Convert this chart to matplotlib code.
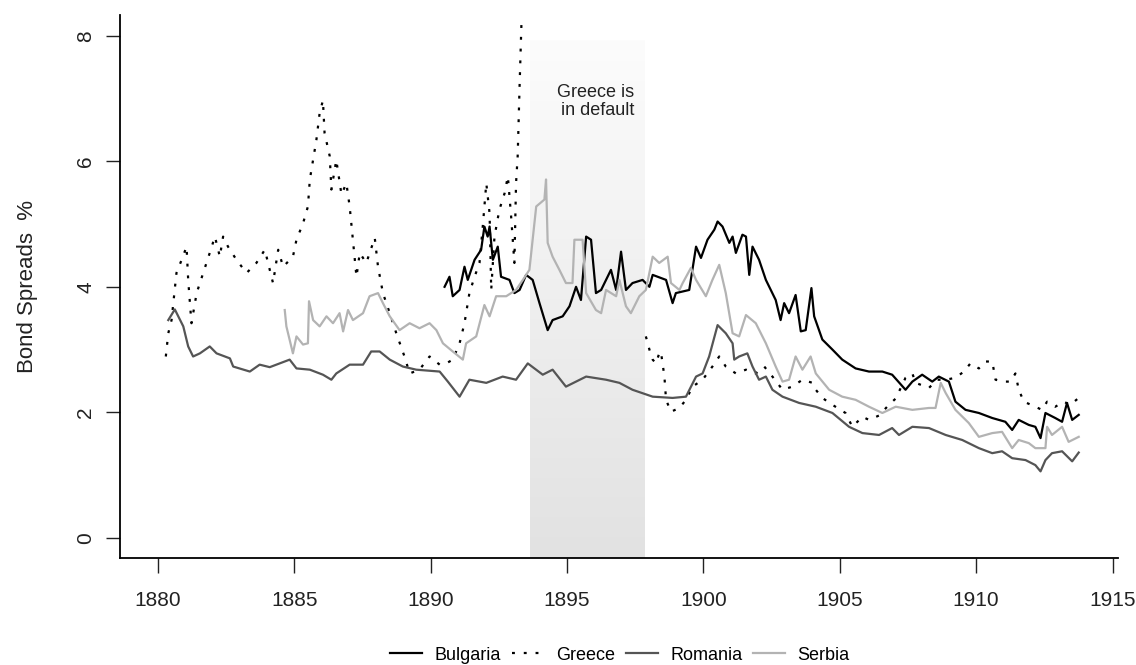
import matplotlib
matplotlib.use('Agg')
import matplotlib.pyplot as plt
import numpy as np
from matplotlib.colors import LinearSegmentedColormap

plt.rcParams['font.family'] = ['Liberation Sans', 'DejaVu Sans']

# Bond spreads (%)
bul_years = [1890.51, 1890.69, 1890.81, 1891.06, 1891.24, 1891.36, 1891.61, 1891.85, 1891.97, 1892.09,
             1892.16, 1892.28, 1892.46, 1892.58, 1892.89, 1893.07, 1893.26, 1893.50, 1893.74, 1893.99,
             1894.29, 1894.47, 1894.84, 1895.09, 1895.33, 1895.51, 1895.70, 1895.88, 1896.06, 1896.25,
             1896.61, 1896.80, 1896.98, 1897.16, 1897.40, 1897.77, 1898.02, 1898.14, 1898.63, 1898.87,
             1898.99, 1899.48, 1899.73, 1899.91, 1900.15, 1900.40, 1900.52, 1900.70, 1900.95, 1901.07,
             1901.19, 1901.43, 1901.56, 1901.68, 1901.80, 1902.04, 1902.29, 1902.65, 1902.83, 1902.96,
             1903.14, 1903.38, 1903.57, 1903.75, 1903.96, 1904.06, 1904.36, 1904.73, 1905.09, 1905.58,
             1906.07, 1906.56, 1906.92, 1907.41, 1907.66, 1908.02, 1908.39, 1908.63, 1909.00, 1909.24,
             1909.61, 1910.10, 1910.59, 1911.07, 1911.32, 1911.56, 1911.93, 1912.17, 1912.36, 1912.54,
             1912.90, 1913.15, 1913.33, 1913.52, 1913.76]
bul_vals = [4.00, 4.16, 3.85, 3.95, 4.32, 4.11, 4.43, 4.59, 4.96, 4.80,
            4.96, 4.43, 4.64, 4.16, 4.11, 3.90, 3.95, 4.19, 4.11, 3.74,
            3.31, 3.47, 3.53, 3.69, 4.00, 3.79, 4.80, 4.75, 3.90, 3.95,
            4.27, 3.95, 4.56, 3.95, 4.06, 4.11, 4.00, 4.19, 4.11, 3.74,
            3.90, 3.95, 4.64, 4.46, 4.75, 4.91, 5.04, 4.96, 4.70, 4.80,
            4.54, 4.83, 4.80, 4.19, 4.64, 4.43, 4.11, 3.79, 3.47, 3.74,
            3.58, 3.87, 3.29, 3.31, 3.98, 3.53, 3.16, 3.00, 2.84, 2.70,
            2.65, 2.65, 2.60, 2.36, 2.49, 2.60, 2.49, 2.57, 2.49, 2.17,
            2.04, 1.99, 1.91, 1.85, 1.72, 1.88, 1.80, 1.77, 1.59, 1.99,
            1.91, 1.85, 2.15, 1.88, 1.96]

# nan marks the default years (no quotes)
gre_years = [1880.29, 1880.38, 1880.50, 1880.68, 1880.87, 1881.05, 1881.11, 1881.23, 1881.42, 1881.66,
             1881.90, 1882.09, 1882.27, 1882.39, 1882.57, 1882.88, 1883.25, 1883.61, 1883.92, 1884.10,
             1884.22, 1884.41, 1884.59, 1884.95, 1885.08, 1885.32, 1885.50, 1885.57, 1885.69, 1885.81,
             1885.93, 1886.05, 1886.11, 1886.30, 1886.36, 1886.54, 1886.73, 1886.91, 1887.03, 1887.15,
             1887.28, 1887.40, 1887.64, 1887.95, 1888.07, 1888.25, 1888.50, 1888.74, 1889.04, 1889.23,
             1889.59, 1889.96, 1890.33, 1890.57, 1890.81, 1891.06, 1891.24, 1891.42, 1891.61, 1891.79,
             1891.91, 1892.04, 1892.16, 1892.22, 1892.34, 1892.52, 1892.71, 1892.83, 1892.95, 1893.07,
             1893.13, 1893.19, 1893.26, 1893.33, 1895.80,
             1897.89, 1898.02, 1898.14, 1898.26, 1898.38, 1898.44, 1898.57, 1898.63, 1898.81, 1899.12,
             1899.36, 1899.60, 1899.97, 1900.33, 1900.58, 1900.82, 1901.19, 1901.56, 1901.92, 1902.23,
             1902.53, 1902.90, 1903.26, 1903.63, 1904.00, 1904.12, 1904.36, 1904.73, 1905.21, 1905.46,
             1905.83, 1906.07, 1906.44, 1906.80, 1907.05, 1907.41, 1907.66, 1907.78, 1908.27, 1908.57,
             1908.88, 1909.24, 1909.55, 1909.79, 1910.10, 1910.34, 1910.59, 1910.71, 1911.01, 1911.26,
             1911.44, 1911.56, 1911.75, 1912.17, 1912.41, 1912.60, 1912.90, 1913.21, 1913.45, 1913.76]
gre_vals = [2.89, 3.26, 3.47, 4.22, 4.43, 4.64, 4.11, 3.42, 3.90, 4.22,
            4.54, 4.80, 4.48, 4.80, 4.64, 4.43, 4.22, 4.38, 4.59, 4.27,
            4.06, 4.59, 4.32, 4.48, 4.75, 5.01, 5.28, 5.71, 6.02, 6.34,
            6.77, 6.97, 6.45, 6.08, 5.55, 6.02, 5.47, 5.65, 5.28, 4.75,
            4.16, 4.54, 4.38, 4.78, 4.32, 3.90, 3.58, 3.26, 2.89, 2.62,
            2.68, 2.89, 2.76, 2.78, 2.84, 3.10, 3.42, 3.90, 4.16, 4.38,
            4.96, 5.65, 5.17, 3.95, 4.80, 5.23, 5.49, 5.76, 5.12, 4.38,
            5.65, 6.08, 7.20, 8.22, np.nan,
            3.21, 3.00, 2.84, 2.78, 2.94, 2.97, 2.57, 2.20, 2.01, 2.07,
            2.20, 2.41, 2.52, 2.73, 2.89, 2.73, 2.62, 2.68, 2.62, 2.73,
            2.57, 2.36, 2.41, 2.52, 2.47, 2.36, 2.23, 2.12, 1.99, 1.77,
            1.93, 1.88, 1.95, 2.12, 2.22, 2.55, 2.62, 2.47, 2.39, 2.52,
            2.52, 2.55, 2.65, 2.78, 2.70, 2.81, 2.81, 2.52, 2.49, 2.49,
            2.62, 2.36, 2.17, 2.09, 2.04, 2.17, 2.09, 2.17, 2.12, 2.23]

rom_years = [1880.38, 1880.62, 1880.93, 1881.11, 1881.29, 1881.54, 1881.90, 1882.15, 1882.64, 1882.76,
             1883.37, 1883.73, 1884.10, 1884.83, 1885.08, 1885.57, 1886.05, 1886.36, 1886.54, 1887.03,
             1887.52, 1887.82, 1888.13, 1888.50, 1888.98, 1889.47, 1890.33, 1890.63, 1891.06, 1891.42,
             1892.04, 1892.64, 1893.13, 1893.56, 1894.11, 1894.47, 1894.96, 1895.70, 1896.43, 1896.92,
             1897.40, 1898.14, 1898.87, 1899.36, 1899.73, 1899.97, 1900.21, 1900.52, 1900.82, 1901.07,
             1901.13, 1901.31, 1901.61, 1901.80, 1902.04, 1902.29, 1902.53, 1902.90, 1903.51, 1904.12,
             1904.73, 1905.34, 1905.83, 1906.44, 1906.92, 1907.17, 1907.66, 1908.27, 1908.88, 1909.49,
             1910.10, 1910.59, 1910.95, 1911.32, 1911.81, 1912.17, 1912.36, 1912.54, 1912.78, 1913.15,
             1913.52, 1913.76]
rom_vals = [3.47, 3.64, 3.37, 3.05, 2.89, 2.94, 3.05, 2.94, 2.86, 2.73,
            2.65, 2.76, 2.72, 2.84, 2.70, 2.68, 2.60, 2.52, 2.62, 2.76,
            2.76, 2.97, 2.97, 2.84, 2.73, 2.68, 2.65, 2.49, 2.25, 2.52,
            2.47, 2.57, 2.52, 2.78, 2.60, 2.68, 2.41, 2.57, 2.52, 2.47,
            2.36, 2.25, 2.23, 2.25, 2.57, 2.62, 2.89, 3.39, 3.26, 3.10,
            2.84, 2.89, 2.94, 2.73, 2.52, 2.57, 2.36, 2.25, 2.15, 2.09,
            1.99, 1.77, 1.67, 1.64, 1.75, 1.64, 1.77, 1.75, 1.64, 1.56,
            1.43, 1.35, 1.38, 1.27, 1.24, 1.16, 1.06, 1.24, 1.35, 1.38,
            1.22, 1.36]

ser_years = [1884.65, 1884.71, 1884.95, 1885.08, 1885.32, 1885.50, 1885.54, 1885.69, 1885.93, 1886.18,
             1886.42, 1886.66, 1886.79, 1886.97, 1887.15, 1887.52, 1887.76, 1888.07, 1888.25, 1888.50,
             1888.86, 1889.23, 1889.59, 1889.96, 1890.21, 1890.45, 1890.81, 1891.18, 1891.30, 1891.67,
             1891.97, 1892.16, 1892.40, 1892.77, 1893.13, 1893.38, 1893.62, 1893.87, 1894.17, 1894.23,
             1894.29, 1894.47, 1894.72, 1894.96, 1895.20, 1895.27, 1895.57, 1895.70, 1896.06, 1896.25,
             1896.43, 1896.80, 1896.92, 1897.16, 1897.34, 1897.65, 1897.89, 1898.14, 1898.38, 1898.69,
             1898.81, 1899.12, 1899.24, 1899.54, 1899.73, 1900.09, 1900.33, 1900.58, 1900.82, 1901.07,
             1901.31, 1901.56, 1901.92, 1902.29, 1902.65, 1902.90, 1903.14, 1903.38, 1903.63, 1903.93,
             1904.12, 1904.61, 1905.09, 1905.58, 1906.07, 1906.56, 1907.05, 1907.66, 1908.27, 1908.51,
             1908.70, 1908.88, 1909.24, 1909.73, 1910.10, 1910.59, 1910.95, 1911.32, 1911.56, 1911.93,
             1912.17, 1912.54, 1912.60, 1912.78, 1913.15, 1913.39, 1913.76]
ser_vals = [3.63, 3.37, 2.94, 3.21, 3.08, 3.10, 3.77, 3.47, 3.37, 3.53,
            3.42, 3.58, 3.29, 3.63, 3.47, 3.58, 3.85, 3.90, 3.74, 3.53,
            3.31, 3.42, 3.34, 3.42, 3.31, 3.10, 2.97, 2.84, 3.10, 3.21,
            3.71, 3.53, 3.85, 3.85, 3.95, 4.11, 4.27, 5.28, 5.39, 5.71,
            4.70, 4.48, 4.27, 4.06, 4.06, 4.75, 4.75, 3.90, 3.63, 3.58,
            3.95, 3.85, 4.11, 3.69, 3.58, 3.85, 3.95, 4.48, 4.38, 4.48,
            4.06, 3.95, 4.06, 4.30, 4.11, 3.85, 4.11, 4.35, 3.90, 3.26,
            3.21, 3.55, 3.42, 3.10, 2.73, 2.49, 2.52, 2.89, 2.68, 2.89,
            2.62, 2.36, 2.25, 2.20, 2.09, 1.99, 2.09, 2.04, 2.07, 2.07,
            2.47, 2.31, 2.04, 1.83, 1.61, 1.67, 1.69, 1.43, 1.56, 1.51,
            1.43, 1.43, 1.77, 1.64, 1.77, 1.53, 1.61]

default_start, default_end = 1893.65, 1897.83

fig = plt.figure(figsize=(11.36, 6.65), dpi=100)
ax = fig.add_axes([120 / 1136, 1 - 558 / 665, 998 / 1136, 543 / 665])

# shaded default period, lighter towards the top
grad = np.linspace(0, 1, 256)[:, None]
cmap = LinearSegmentedColormap.from_list('shade', ['#fcfcfc', '#e2e2e2'])
ax.imshow(grad, extent=[default_start, default_end, -0.32, 7.92], aspect='auto',
          cmap=cmap, zorder=0, interpolation='bilinear')

lw = 1.6
ax.plot(bul_years, bul_vals, color='black', lw=lw, label='Bulgaria')
ax.plot(gre_years, gre_vals, color='black', lw=lw, linestyle=(0, (1.3, 4)),
        dash_capstyle='butt', label='Greece')
ax.plot(rom_years, rom_vals, color='#555555', lw=lw, label='Romania')
ax.plot(ser_years, ser_vals, color='#b3b3b3', lw=lw, label='Serbia')

ax.text(1897.47, 6.95, 'Greece is\nin default', ha='right', va='center',
        fontsize=13, linespacing=1.05, color='#222222')

ax.set_xlim(1878.61, 1915.2)
ax.set_ylim(-0.32, 8.33)
ax.set_xticks(range(1880, 1916, 5))
ax.set_yticks([0, 2, 4, 6, 8])
for lab in ax.get_yticklabels():
    lab.set_rotation(90)
    lab.set_va('center')
ax.tick_params(axis='x', length=11, width=1, pad=13, labelsize=15, colors='#222222')
ax.tick_params(axis='y', length=10, width=1, pad=8, labelsize=15, colors='#222222')
ax.spines['top'].set_visible(False)
ax.spines['right'].set_visible(False)
for s in ['left', 'bottom']:
    ax.spines[s].set_linewidth(1.3)

ax.set_ylabel('Bond Spreads  %', fontsize=16, color='#222222')
ax.yaxis.set_label_coords(-0.082, 0.5)

fig.legend(loc='center', bbox_to_anchor=(620 / 1136, 1 - 655 / 665), ncol=4,
           frameon=False, fontsize=13, handlelength=1.75, handletextpad=0.7,
           columnspacing=0.6)

fig.savefig('out.png', dpi=100)
